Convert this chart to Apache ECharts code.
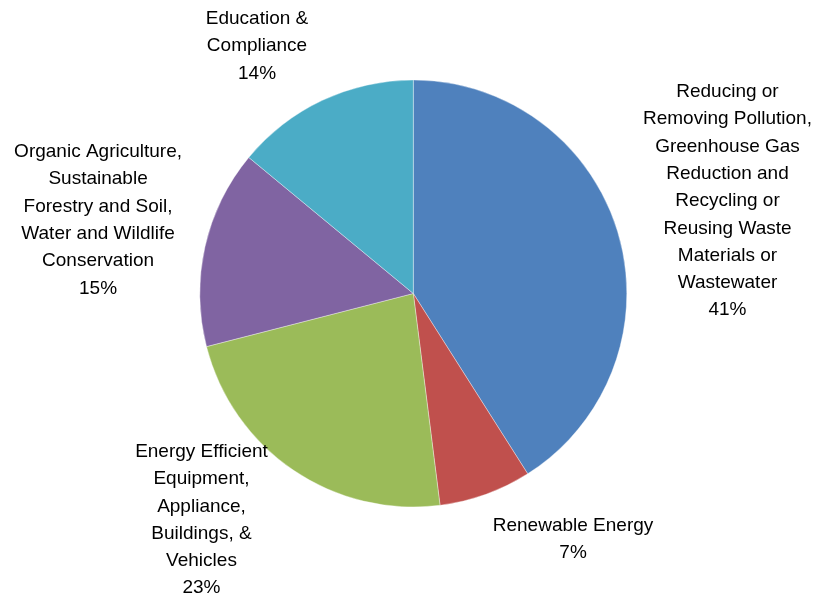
<!DOCTYPE html>
<html>
<head>
<meta charset="utf-8">
<script src="https://cdn.jsdelivr.net/npm/echarts@6/dist/echarts.min.js"></script>
<style>
html,body{margin:0;padding:0;background:#fff;}
#chart{width:817px;height:599px;}
</style>
</head>
<body>
<div id="chart"></div>
<script>
// Data
var categories = [
  "Reducing or\nRemoving Pollution,\nGreenhouse Gas\nReduction and\nRecycling or\nReusing Waste\nMaterials or\nWastewater",
  "Renewable Energy",
  "Energy Efficient\nEquipment,\nAppliance,\nBuildings, &\nVehicles",
  "Organic Agriculture,\nSustainable\nForestry and Soil,\nWater and Wildlife\nConservation",
  "Education &\nCompliance"
];
var values = [41, 7, 23, 15, 14];

// Styles
var colors = ['#4F81BD', '#C0504D', '#9BBB59', '#8064A2', '#4BACC6'];
var labelDist = [327.5, 292.9, 310.1, 323.7, 292.7];
var labelAngleNudge = [-0.2, -13.25, 8.88, 0.52, -7.07];
var CX = 413.3, CY = 293.5, R = 213.5;

var total = values.reduce(function(a,b){return a+b;}, 0);
var midAngles = [];
var acc = 0;
values.forEach(function(v){
  midAngles.push((acc + v/2) / total * 360);
  acc += v;
});

var chart = echarts.init(document.getElementById('chart'), null, {renderer:'canvas'});
chart.setOption({
  animation: false,
  backgroundColor: '#ffffff',
  series: [{
    type: 'pie',
    center: [CX, CY],
    radius: [0, R],
    startAngle: 90,
    clockwise: true,
    avoidLabelOverlap: false,
    data: categories.map(function(c, i){
      return {name: c, value: values[i], itemStyle: {color: colors[i]}};
    }),
    itemStyle: {borderColor: 'rgba(255,255,255,0.6)', borderWidth: 0.6},
    label: {
      show: true,
      position: 'outside',
      overflow: 'none',
      edgeDistance: 0,
      formatter: function(p){ return p.name + '\n' + Math.round(p.percent) + '%'; },
      fontFamily: "'Liberation Sans', Arial, sans-serif",
      fontSize: 19,
      lineHeight: 27.3,
      color: '#000',
      align: 'center'
    },
    labelLine: {show: false},
    labelLayout: function(params){
      var i = params.dataIndex;
      var a = (midAngles[i] + labelAngleNudge[i]) * Math.PI / 180;
      var d = labelDist[i];
      return {
        x: CX + d * Math.sin(a),
        y: CY - d * Math.cos(a),
        align: 'center',
        verticalAlign: 'middle',
        width: 400
      };
    },
    emphasis: {disabled: true}
  }]
});
</script>
</body>
</html>
